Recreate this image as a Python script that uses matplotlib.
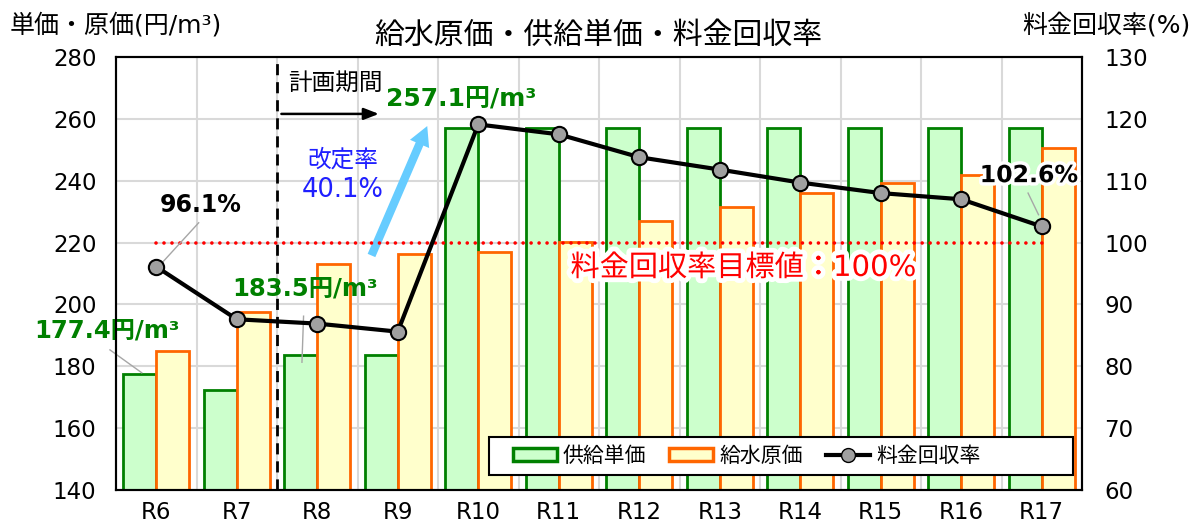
import matplotlib.pyplot as plt
import matplotlib.patheffects as pe
from matplotlib.lines import Line2D
from matplotlib.patches import Patch, Rectangle
import numpy as np

plt.rcParams['font.family'] = ['DejaVu Sans', 'Noto Sans CJK JP']

# data
years = ['R6', 'R7', 'R8', 'R9', 'R10', 'R11', 'R12', 'R13', 'R14', 'R15', 'R16', 'R17']
supply_price = [177.4, 172.2, 183.5, 183.5, 257.1, 257.1, 257.1, 257.1, 257.1, 257.1, 257.1, 257.1]
water_cost = [184.8, 197.6, 213.1, 216.3, 216.8, 220.1, 227.1, 231.6, 236.1, 239.1, 241.8, 250.7]
recovery_rate = [96.1, 87.6, 86.9, 85.6, 119.1, 117.5, 113.8, 111.8, 109.7, 108.0, 107.0, 102.6]
target_rate = 100
revision_rate = 40.1

green = '#008000'
orange = '#FF6600'
x = np.arange(len(years))
w = 0.41

fig = plt.figure(figsize=(11.99, 5.29), dpi=100)
ax = fig.add_axes([116 / 1199, 39 / 529, 966 / 1199, 433 / 529])
ax2 = ax.twinx()

# grid
ax.set_axisbelow(True)
for b in np.arange(0.5, len(years) - 0.5, 1):
    ax.axvline(b, color='#D9D9D9', lw=1.5, zorder=0)
for yv in range(160, 280, 20):
    ax.axhline(yv, color='#D9D9D9', lw=1.5, zorder=0)

# bars
ax.bar(x - w / 2, supply_price, w, color='#CCFFCC', edgecolor=green, linewidth=2, zorder=2)
ax.bar(x + w / 2, water_cost, w, color='#FFFFCC', edgecolor=orange, linewidth=2, zorder=2)

ax.set_xlim(-0.5, len(years) - 0.5)
ax.set_ylim(140, 280)
ax.set_yticks(range(140, 281, 20))
ax.set_xticks(x)
ax.set_xticklabels(years)
ax.tick_params(axis='both', length=0, labelsize=16.5)
ax.tick_params(axis='y', pad=14)
ax.tick_params(axis='x', pad=8)

# planning period marker
ax.axvline(1.5, color='black', lw=2, ls=(0, (4, 2.5)), zorder=3)
ax.annotate('', xy=(2.8, 261.6), xytext=(1.52, 261.6),
            arrowprops=dict(arrowstyle='-|>,head_length=0.9,head_width=0.35', color='black', lw=1.8))
ax.text(1.64, 271.8, '計画期間', fontsize=17, ha='left', va='center')

# revision arrow
ax.annotate('', xy=(3.38, 258.5), xytext=(2.66, 215),
            arrowprops=dict(arrowstyle='simple,head_length=1.4,head_width=1.5,tail_width=0.6',
                            color='#66CCFF', lw=0))
ax.text(2.32, 246.7, '改定率', fontsize=17, color='#1F1FFF', ha='center', va='center')
ax.text(2.31, 237.0, f'{revision_rate}%', fontsize=18.5, color='#1F1FFF', ha='center', va='center')

# price labels
ax.text(3.79, 266.1, f'{supply_price[4]}円/m³', fontsize=18, fontweight='bold',
        color=green, ha='center', va='center')
ax.text(1.85, 205.3, f'{supply_price[2]}円/m³', fontsize=17.5, fontweight='bold',
        color=green, ha='center', va='center')
ax.plot([1.83, 1.81], [196.2, 181.3], color='#A6A6A6', lw=1, zorder=3)
ax.text(-0.61, 191.7, f'{supply_price[0]}円/m³', fontsize=17.5, fontweight='bold',
        color=green, ha='center', va='center', zorder=6)
ax.plot([-0.575, -0.18], [185.3, 177.9], color='#A6A6A6', lw=1, zorder=3, clip_on=False)

# recovery rate line
ax2.set_ylim(60, 130)
ax2.set_yticks(range(60, 131, 10))
ax2.tick_params(axis='y', length=0, labelsize=16.5, pad=16)
ax2.plot([0, len(years) - 1], [target_rate, target_rate], color='#FF0000', lw=2.6,
         ls=(0, (0.01, 2.2)), dash_capstyle='round', zorder=3)
ax2.plot(x, recovery_rate, color='black', lw=3, marker='o', markersize=11,
         markerfacecolor='#A0A0A0', markeredgecolor='black', markeredgewidth=1.5, zorder=4)

ax2.text(0.556, 106.1, f'{recovery_rate[0]}%', fontsize=17, fontweight='bold', ha='center', va='center')
ax2.plot([0.527, 0.084], [103.2, 96.9], color='#A6A6A6', lw=1, zorder=3)
ax2.text(10.84, 110.9, f'{recovery_rate[-1]}%', fontsize=17, fontweight='bold', ha='center', va='center',
         path_effects=[pe.withStroke(linewidth=5, foreground='white')], zorder=6)
ax2.plot([10.83, 10.96], [108.0, 104.5], color='#A6A6A6', lw=1, zorder=5)

ax2.text(7.29, 95.9, f'料金回収率目標値：{target_rate}%', fontsize=21, color='#FF0000',
         ha='center', va='center', zorder=6,
         path_effects=[pe.withStroke(linewidth=7, foreground='white')])

for a in (ax, ax2):
    for s in a.spines.values():
        s.set_linewidth(1.5)
        s.set_color('black')

# legend box, entries packed to the left like the Excel legend
ax2.add_patch(Rectangle((0.386, 0.035), 0.605, 0.088, transform=ax2.transAxes,
                        facecolor='white', edgecolor='black', lw=1.5, zorder=9))
handles = [Patch(facecolor='#CCFFCC', edgecolor=green, linewidth=2.5),
           Patch(facecolor='#FFFFCC', edgecolor=orange, linewidth=2.5),
           Line2D([], [], color='black', lw=3, marker='o', markersize=10,
                  markerfacecolor='#A0A0A0', markeredgecolor='black')]
leg = ax2.legend(handles, ['供給単価', '給水原価', '料金回収率'], loc='center left',
                 bbox_to_anchor=(0.411, 0.079), borderaxespad=0, borderpad=0, ncol=3,
                 fontsize=15, frameon=False, handlelength=2.1, handleheight=0.6,
                 columnspacing=1.1, handletextpad=0.3)
leg.set_zorder(10)

# titles
fig.text(598 / 1199, 1 - 35 / 529, '給水原価・供給単価・料金回収率', fontsize=21.5,
         ha='center', va='center')
fig.text(10 / 1199, 1 - 25 / 529, '単価・原価(円/m³)', fontsize=18, ha='left', va='center')
fig.text(1191 / 1199, 1 - 25 / 529, '料金回収率(%)', fontsize=18, ha='right', va='center')

fig.savefig('out.png', dpi=100)
